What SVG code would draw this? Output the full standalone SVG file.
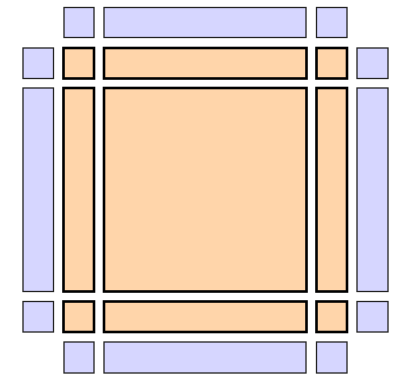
<svg xmlns="http://www.w3.org/2000/svg" width="401" height="374" viewBox="0 0 401 374">
<style>
.b{fill:#d6d6ff;stroke:#222;stroke-width:1.3}
.o{fill:#ffd5aa;stroke:#000;stroke-width:2.6}
</style>
<rect width="401" height="374" fill="#fff"/>
<g id="outer">
<rect id="t1" class="b" x="64" y="7.5" width="30" height="30"/>
<rect id="t2" class="b" x="104" y="7.5" width="202" height="30"/>
<rect id="t3" class="b" x="316.5" y="7.5" width="30.5" height="30"/>
<rect id="l1" class="b" x="23" y="48" width="30.5" height="30.5"/>
<rect id="l2" class="b" x="23" y="88" width="30.5" height="203.5"/>
<rect id="l3" class="b" x="23" y="301.5" width="30.5" height="30.5"/>
<rect id="r1" class="b" x="357" y="48" width="31" height="30.5"/>
<rect id="r2" class="b" x="357" y="88" width="31" height="203.5"/>
<rect id="r3" class="b" x="357" y="301.5" width="31" height="30.5"/>
<rect id="b1" class="b" x="64" y="342" width="30" height="31"/>
<rect id="b2" class="b" x="104" y="342" width="202" height="31"/>
<rect id="b3" class="b" x="316.5" y="342" width="30.5" height="31"/>
</g>
<g id="inner">
<rect id="c11" class="o" x="63.5" y="48" width="30.5" height="30.5"/>
<rect id="c12" class="o" x="104" y="48" width="202.5" height="30.5"/>
<rect id="c13" class="o" x="316.5" y="48" width="30.5" height="30.5"/>
<rect id="c21" class="o" x="63.5" y="88" width="30.5" height="203.5"/>
<rect id="c22" class="o" x="104" y="88" width="202.5" height="203.5"/>
<rect id="c23" class="o" x="316.5" y="88" width="30.5" height="203.5"/>
<rect id="c31" class="o" x="63.5" y="301.5" width="30.5" height="30.5"/>
<rect id="c32" class="o" x="104" y="301.5" width="202.5" height="30.5"/>
<rect id="c33" class="o" x="316.5" y="301.5" width="30.5" height="30.5"/>
</g>
<g id="connectors"/>
</svg>
